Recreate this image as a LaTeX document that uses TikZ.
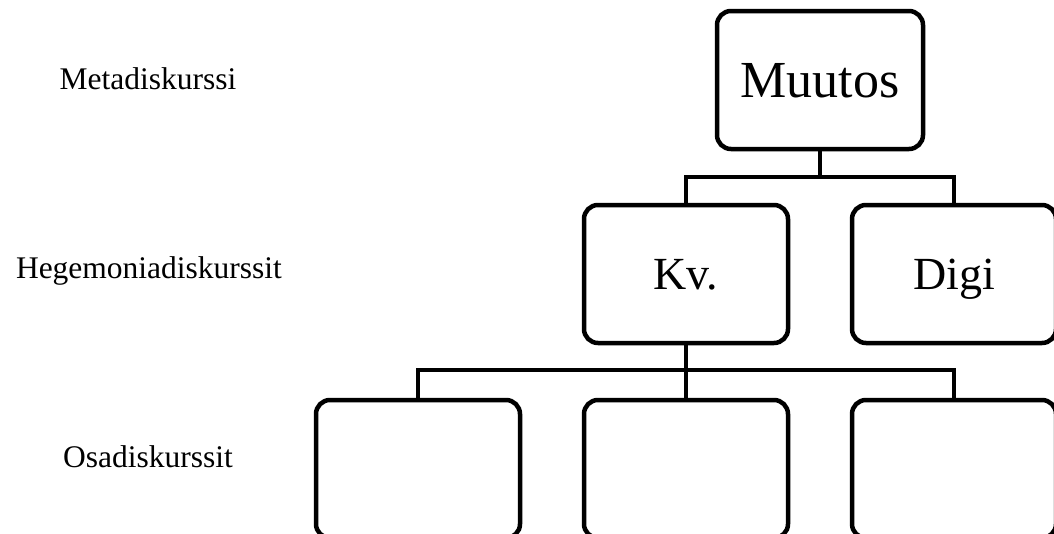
\documentclass[tikz,border=0pt]{standalone}
\usepackage{fontspec}
\setmainfont{Liberation Serif}
\tikzset{
  box/.style={draw=black, line width=4.5pt, rounded corners=14pt, fill=white,
    minimum width=204pt, minimum height=138pt, inner sep=0pt,
    text height=0pt, text depth=0pt, align=center},
  bigtxt/.style={font=\fontsize{52}{60}\selectfont, text height=34pt},
  midtxt/.style={font=\fontsize{46}{54}\selectfont, text height=30pt},
  lbl/.style={font=\fontsize{31.5}{36}\selectfont, anchor=base, inner sep=0pt},
  conn/.style={draw=black, line width=3.8pt}
}
\begin{document}
\begin{tikzpicture}[x=1pt, y=-1pt]
\useasboundingbox (0,0) rectangle (1054,533);
\clip (0,0) rectangle (1054,533);
\fill[white] (0,0) rectangle (1054,533);

% labels
\node[lbl] (l1) at (148,89) {Metadiskurssi};
\node[lbl] (l2) at (149,278) {Hegemoniadiskurssit};
\node[lbl] (l3) at (148,467) {Osadiskurssit};

% junction coordinates
\coordinate (j1) at (820,177);
\coordinate (j2) at (686,370);

% boxes
\node[box, bigtxt, minimum width=206pt] (M) at (820,80) {Muutos};
\node[box, midtxt] (Kv) at (686,274) {Kv.};
\node[box, midtxt] (Dg) at (954,274) {Digi};
\node[box] (B1) at (418,469) {};
\node[box] (B2) at (686,469) {};
\node[box] (B3) at (954,469) {};

% connectors
\draw[conn] (M.south) -- (j1);
\draw[conn] (Kv.north) |- (j1) -| (Dg.north);
\draw[conn] (Kv.south) -- (B2.north);
\draw[conn] (B1.north) |- (j2) -| (B3.north);
\end{tikzpicture}
\end{document}
